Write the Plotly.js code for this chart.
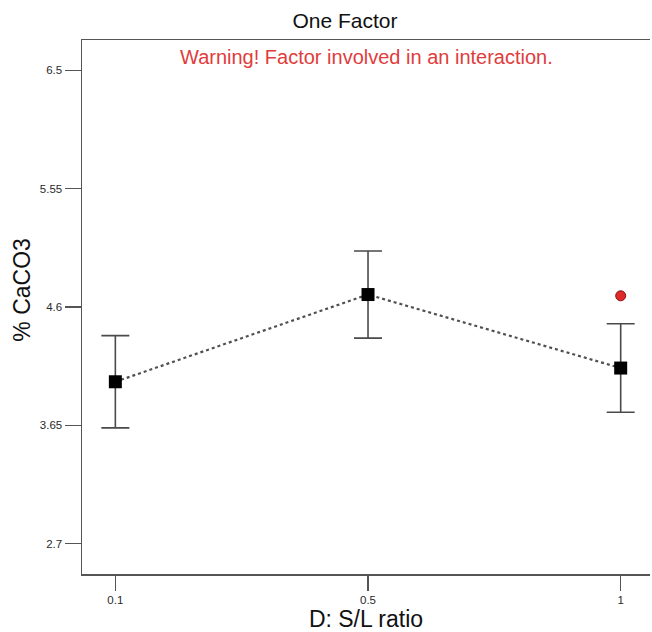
<!DOCTYPE html>
<html>
<head>
<meta charset="utf-8">
<script src="https://cdn.plot.ly/plotly-3.0.1.min.js"></script>
<style>
  html, body { margin: 0; padding: 0; background: #ffffff; }
  #plot { width: 652px; height: 632px; }
</style>
</head>
<body>
<div id="plot"></div>
<script>
// Factor levels of D: S/L ratio
const levels = ['0.1', '0.5', '1'];
// Predicted % CaCO3 at each level and the half-width of its interval
const means = [4.00, 4.70, 4.11];
const halfWidths = [0.37, 0.35, 0.355];
// Observed design point
const designX = ['1'];
const designY = [4.69];
// Y axis ticks
const yTickVals = [2.7, 3.65, 4.6, 5.55, 6.5];
const yTickText = ['2.7', '3.65', '4.6', '5.55', '6.5'];

const font = 'Liberation Sans, Arial, sans-serif';

const traces = [
  {
    x: levels,
    y: means,
    type: 'scatter',
    mode: 'lines+markers',
    line: { color: '#505050', width: 2.2, dash: 'dot' },
    marker: { symbol: 'square', size: 13, color: '#000000' },
    error_y: {
      type: 'data',
      array: halfWidths,
      visible: true,
      color: '#4a4a4a',
      thickness: 1.6,
      width: 14
    },
    hoverinfo: 'x+y'
  },
  {
    x: designX,
    y: designY,
    type: 'scatter',
    mode: 'markers',
    marker: { symbol: 'circle', size: 10, color: '#e02a2a', line: { color: '#8a1010', width: 1 } },
    hoverinfo: 'x+y'
  }
];

const layout = {
  width: 652,
  height: 632,
  margin: { l: 82, r: 2, t: 40, b: 58 },
  paper_bgcolor: '#ffffff',
  plot_bgcolor: '#ffffff',
  showlegend: false,
  font: { family: font, color: '#222222' },
  title: {
    text: 'One Factor',
    font: { family: font, size: 21, color: '#111111' },
    x: 0.529,
    xanchor: 'center',
    y: 0.968,
    yanchor: 'middle'
  },
  xaxis: {
    type: 'category',
    range: [-0.132, 2.116],
    showgrid: false,
    zeroline: false,
    showline: true,
    linecolor: '#555555',
    linewidth: 1.5,
    mirror: true,
    ticks: 'outside',
    ticklen: 15,
    tickwidth: 1.5,
    tickcolor: '#555555',
    tickfont: { family: font, size: 11.5, color: '#2a2a2a' },
    title: {
      text: 'D: S/L ratio',
      font: { family: font, size: 23, color: '#111111' },
      standoff: 4
    }
  },
  yaxis: {
    range: [2.457, 6.743],
    tickvals: yTickVals,
    ticktext: yTickText,
    showgrid: false,
    zeroline: false,
    showline: true,
    linecolor: '#555555',
    linewidth: 1.5,
    mirror: false,
    ticks: 'outside',
    ticklen: 16,
    tickwidth: 1.5,
    tickcolor: '#555555',
    tickfont: { family: font, size: 11.5, color: '#2a2a2a' }
  },
  annotations: [
    {
      // y axis title, set slightly above the plot's vertical centre
      text: '% CaCO3',
      xref: 'paper',
      yref: 'paper',
      x: -0.106,
      y: 0.532,
      xanchor: 'center',
      yanchor: 'middle',
      textangle: -90,
      showarrow: false,
      font: { family: font, size: 23, color: '#111111' }
    },
    {
      text: 'Warning! Factor involved in an interaction.',
      xref: 'paper',
      yref: 'paper',
      x: 0.5,
      y: 0.968,
      xanchor: 'center',
      yanchor: 'middle',
      showarrow: false,
      font: { family: font, size: 20, color: '#e03c3c' }
    }
  ]
};

Plotly.newPlot('plot', traces, layout, { displayModeBar: false, staticPlot: true });
</script>
</body>
</html>
